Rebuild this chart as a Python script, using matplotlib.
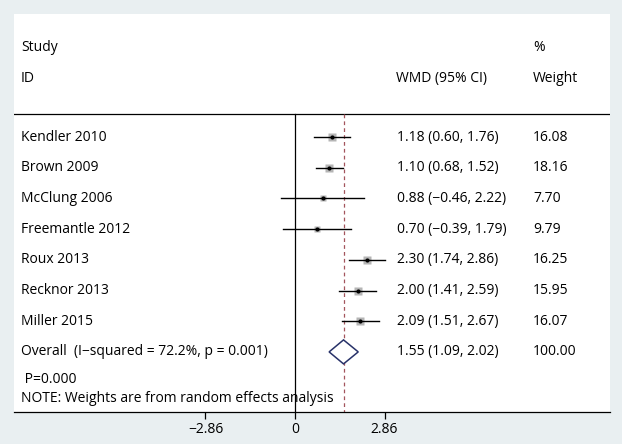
import numpy as np
import matplotlib
matplotlib.use("Agg")
import matplotlib.pyplot as plt
from matplotlib.transforms import blended_transform_factory

plt.rcParams["font.family"] = ["Open Sans", "DejaVu Sans"]

# Forest plot data
studies = ["Kendler 2010", "Brown 2009", "McClung 2006", "Freemantle 2012",
           "Roux 2013", "Recknor 2013", "Miller 2015"]
wmd = [1.18, 1.10, 0.88, 0.70, 2.30, 2.00, 2.09]
ci_low = [0.60, 0.68, -0.46, -0.39, 1.74, 1.41, 1.51]
ci_high = [1.76, 1.52, 2.22, 1.79, 2.86, 2.59, 2.67]
weights = [16.08, 18.16, 7.70, 9.79, 16.25, 15.95, 16.07]

overall_label = "Overall  (I\u2212squared = 72.2%, p = 0.001)"
overall = 1.55
overall_low = 1.09
overall_high = 2.02
overall_weight = 100.00

xticks = [-2.86, 0, 2.86]

W, H = 622, 444
fig = plt.figure(figsize=(W / 100, H / 100), dpi=100)
fig.patch.set_facecolor("#e9eff1")

# white panel: x 14..610 px, y 14..412 px
left, right, top, bottom = 14, 610, 14, 412
ax = fig.add_axes([left / W, 1 - bottom / H, (right - left) / W, (bottom - top) / H])
ax.set_facecolor("white")

px0, scale = 295.0, 31.3
ax.set_xlim((left - px0) / scale, (right - px0) / scale)
row0, step = 137.0, 30.7
ax.set_ylim((bottom - row0) / step, (top - row0) / step)

fs = 10
tx = blended_transform_factory(ax.transAxes, ax.transData)
def fx(p):
    return (p - left) / (right - left)

def fmt(v):
    return f"{v:.2f}".replace("-", "\u2212")

# headers
y_study = (47 - row0) / step
y_id = (78 - row0) / step
ax.text(fx(21), y_study, "Study", transform=tx, fontsize=fs, va="center")
ax.text(fx(21), y_id, "ID", transform=tx, fontsize=fs, va="center")
ax.text(fx(396), y_id, "WMD (95% CI)", transform=tx, fontsize=fs, va="center")
ax.text(fx(533), y_study, "%", transform=tx, fontsize=fs, va="center")
ax.text(fx(533), y_id, "Weight", transform=tx, fontsize=fs, va="center")

y_line = (114 - row0) / step
ax.axhline(y_line, color="black", lw=0.9)
ax.plot([0, 0], [y_line, ax.get_ylim()[0]], color="black", lw=0.9)
ax.plot([overall, overall], [y_line, ax.get_ylim()[0]], color="#a3545c",
        lw=0.9, ls=(0, (3, 2.5)))

for i, name in enumerate(studies):
    ax.plot([ci_low[i], ci_high[i]], [i, i], color="black", lw=1.0, zorder=3)
    ax.plot(wmd[i], i, marker="s", ms=1.35 * np.sqrt(weights[i]), color="#b5b5b5",
            mec="none", zorder=2)
    ax.plot(wmd[i], i, marker="o", ms=3, color="black", mec="none", zorder=4)
    ax.text(fx(21), i, name, transform=tx, fontsize=fs, va="center")
    ax.text(fx(397), i, f"{fmt(wmd[i])} ({fmt(ci_low[i])}, {fmt(ci_high[i])})",
            transform=tx, fontsize=fs, va="center")
    ax.text(fx(533), i, f"{weights[i]:.2f}", transform=tx, fontsize=fs, va="center")

yo = len(studies)
dh = 12 / step
ax.fill([overall_low, overall, overall_high, overall, overall_low],
        [yo, yo - dh, yo, yo + dh, yo], facecolor="white", edgecolor="#283269",
        lw=1.1, zorder=3)
ax.text(fx(21), yo, overall_label, transform=tx, fontsize=fs, va="center")
ax.text(fx(397), yo, f"{fmt(overall)} ({fmt(overall_low)}, {fmt(overall_high)})",
        transform=tx, fontsize=fs, va="center")
ax.text(fx(533), yo, f"{overall_weight:.2f}", transform=tx, fontsize=fs, va="center")

ax.text(fx(21), (379 - row0) / step, " P=0.000", transform=tx, fontsize=fs, va="center")
ax.text(fx(21), (398 - row0) / step, "NOTE: Weights are from random effects analysis",
        transform=tx, fontsize=fs, va="center")

for s in ["top", "left", "right"]:
    ax.spines[s].set_visible(False)
ax.spines["bottom"].set_linewidth(0.9)
ax.set_yticks([])
ax.set_xticks(xticks)
ax.set_xticklabels([fmt(v) if v != 0 else "0" for v in xticks], fontsize=fs)
ax.tick_params(axis="x", length=5, width=0.9, pad=2)

fig.savefig("out.png", dpi=100, facecolor=fig.get_facecolor())
